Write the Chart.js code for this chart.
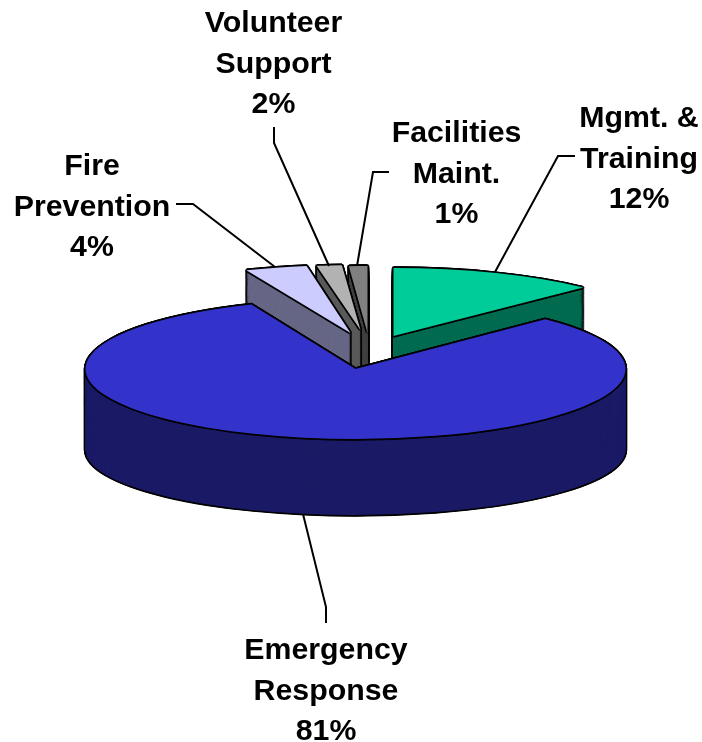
<!DOCTYPE html>
<html>
<head>
<meta charset="utf-8">
<title>Budget by function</title>
<style>html,body{margin:0;padding:0;background:#fff}canvas{display:block}</style>
<script src="https://cdn.jsdelivr.net/npm/chart.js@4"></script>
</head>
<body>
<canvas id="c" width="702" height="742"></canvas>
<script>
// Data
const categories = ['Mgmt. &\nTraining', 'Emergency\nResponse', 'Fire\nPrevention', 'Volunteer\nSupport', 'Facilities\nMaint.'];
const shares = [12.4, 81.3, 3.7, 1.5, 1.1];

// Styles
const topColors  = ['#00CC99', '#3333CC', '#CCCCFF', '#B2B2B2', '#808080'];
const wallColors = ['#006B50', '#1A1A66', '#666685', '#595959', '#404040'];
const explodeX = [38, 0, -5, 5, 12];
const explodeY = [-32, 1, -35, -38, -35];
const topRy = [68, 70, 68, 65, 67];
const bottomRy = [64, 65, 64, 61, 63];
const wallDepth = 81;
const pieRadius = 270;
const paintOrder = [0, 4, 3, 2, 1];
const outline = 1.7;

// Label layout
const labelX = [639, 326, 92, 273.5, 456.5];
const labelFirstBaseline = [127, 659, 175, 32, 142];
const labelLineGap = 40.5;
const leaders = [
  [[575,156],[558,156],[495,272]],
  [[326,623],[326,607],[303,514]],
  [[176,204],[193,204],[275,267]],
  [[274,127],[274,143],[329,266]],
  [[389,172],[373,172],[357,266]]
];

function drawWith(ctx, el, color, cx, cy, dx, dy, ry) {
  const orig = el.options;
  el.options = Object.assign({}, orig, {backgroundColor: color, borderWidth: 0});
  ctx.save();
  ctx.translate(cx + dx, cy + dy);
  ctx.scale(1, ry / pieRadius);
  ctx.translate(-cx, -cy);
  el.draw(ctx);
  ctx.restore();
  el.options = orig;
}

const dirs = [[1,0],[-1,0],[0,1],[0,-1],[.7,.7],[-.7,.7],[.7,-.7],[-.7,-.7]];

const pie3d = {
  id: 'pie3d',
  beforeDatasetDraw(chart) {
    const ctx = chart.ctx;
    const arcs = chart.getDatasetMeta(0).data;
    paintOrder.forEach(i => {
      const el = arcs[i], cx = el.x, cy = el.y;
      const ex = explodeX[i], ey = explodeY[i];
      const ryAt = s => topRy[i] + (bottomRy[i] - topRy[i]) * s / wallDepth;
      // black silhouette of the extruded body
      for (let s = wallDepth; s >= 0; s--) {
        dirs.forEach(d => drawWith(ctx, el, '#000', cx, cy, ex + d[0]*outline, ey + s + d[1]*outline, ryAt(s)));
      }
      // wall body
      for (let s = wallDepth; s >= 1; s--) {
        drawWith(ctx, el, wallColors[i], cx, cy, ex, ey + s, ryAt(s));
      }
      // outline of the top face, then the top face
      dirs.forEach(d => drawWith(ctx, el, '#000', cx, cy, ex + d[0]*outline, ey + d[1]*outline, topRy[i]));
      drawWith(ctx, el, topColors[i], cx, cy, ex, ey, topRy[i]);
    });
    return false;
  },
  afterDraw(chart) {
    const ctx = chart.ctx;
    const total = shares.reduce((a, b) => a + b, 0);
    ctx.save();
    ctx.strokeStyle = '#000';
    ctx.lineWidth = 2;
    ctx.lineJoin = 'miter';
    leaders.forEach(pts => {
      ctx.beginPath();
      pts.forEach((p, k) => k ? ctx.lineTo(p[0], p[1]) : ctx.moveTo(p[0], p[1]));
      ctx.stroke();
    });
    ctx.fillStyle = '#000';
    ctx.font = 'bold 30.3px "Liberation Sans", Arial, sans-serif';
    ctx.textAlign = 'center';
    ctx.textBaseline = 'alphabetic';
    categories.forEach((name, i) => {
      const lines = name.split('\n').concat(Math.round(shares[i] / total * 100) + '%');
      lines.forEach((t, k) => ctx.fillText(t, labelX[i], labelFirstBaseline[i] + k * labelLineGap));
    });
    ctx.restore();
  }
};

new Chart(document.getElementById('c'), {
  type: 'pie',
  data: {
    labels: categories,
    datasets: [{ data: shares, backgroundColor: topColors, borderWidth: 0 }]
  },
  options: {
    responsive: false,
    animation: false,
    devicePixelRatio: 1,
    radius: pieRadius,
    layout: { padding: { left: 9, right: 0, top: 0, bottom: 6 } },
    plugins: { legend: { display: false }, tooltip: { enabled: false }, title: { display: false } }
  },
  plugins: [pie3d]
});
</script>
</body>
</html>
